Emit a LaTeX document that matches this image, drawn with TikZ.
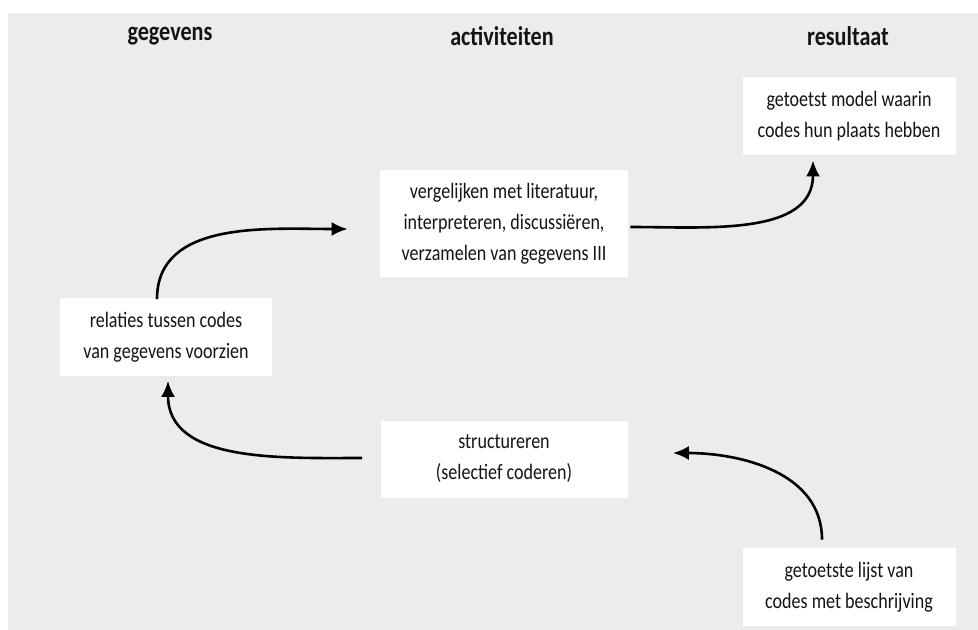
\documentclass[tikz,border=0pt]{standalone}
\usepackage{fontspec}
\setmainfont{Carlito}[FakeStretch=0.82]
\usepackage{xcolor}
\usepackage{tikz}
\usetikzlibrary{arrows.meta,positioning}
\definecolor{panelgrey}{RGB}{235,236,236}
\definecolor{inkdark}{RGB}{20,20,20}

\begin{document}
\begin{tikzpicture}[x=0.5pt, y=-0.5pt,
    box/.style={fill=white, align=center, inner sep=0pt,
                font=\fontsize{11}{15.5}\selectfont, text=inkdark},
    heading/.style={font=\fontsize{13.5}{15}\selectfont\bfseries, text=inkdark},
    flow/.style={line width=1.3pt, -{Latex[length=8pt,width=7pt]}}]
    \useasboundingbox (0,0) rectangle (978,630);
    \fill[panelgrey] (8,13) rectangle (978,630);

    % column titles
    \node[heading] (tgeg) at (170,36) {gegevens};
    \node[heading] (tact) at (502,36) {activiteiten};
    \node[heading] (tres) at (848,36) {resultaat};

    % boxes
    \node[box, minimum width=106pt, minimum height=38.5pt] (rel) at (166,337)
        {relaties tussen codes\\van gegevens voorzien};
    \node[box, minimum width=124pt, minimum height=53.5pt] (verg) at (504,224)
        {vergelijken met literatuur,\\interpreteren, discussi\"eren,\\verzamelen van gegevens III};
    \node[box, minimum width=123.5pt, minimum height=38.5pt] (struct) at (504,459)
        {structureren\\(selectief coderen)};
    \node[box, minimum width=106.5pt, minimum height=39pt] (model) at (849,116)
        {getoetst model waarin\\codes hun plaats hebben};
    \node[box, minimum width=106.5pt, minimum height=39pt] (lijst) at (849,587)
        {getoetste lijst van\\codes met beschrijving};

    % arrows
    \draw[flow] ([xshift=-4.5pt,yshift=-0.5pt]rel.north) to[out=90, in=180]
        ([xshift=-16pt,yshift=-2.5pt]verg.west);
    \draw[flow] ([xshift=-9pt,yshift=0.5pt]struct.west) to[out=180, in=-90]
        ([xshift=1pt,yshift=-2.5pt]rel.south);
    \draw[flow] ([xshift=1pt,yshift=-1.5pt]verg.east) to[out=0, in=-90]
        ([xshift=-18pt,yshift=-2.5pt]model.south);
    \draw[flow] ([xshift=-13.5pt,yshift=4pt]lijst.north) to[out=90, in=0]
        ([xshift=22.5pt,yshift=3pt]struct.east);
\end{tikzpicture}
\end{document}
